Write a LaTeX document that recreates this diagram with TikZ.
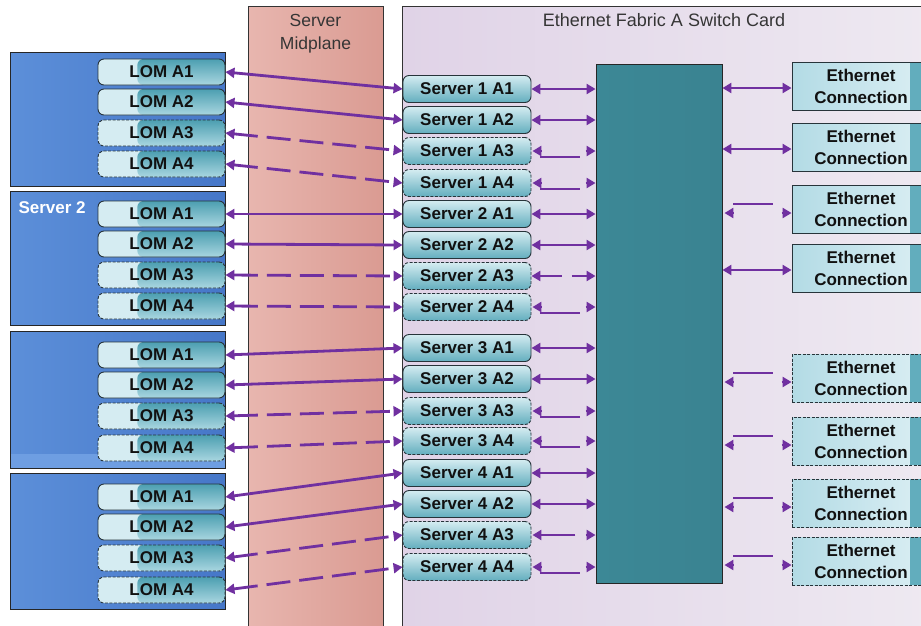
\documentclass[tikz,border=0pt]{standalone}
\usepackage{fontspec}
\setmainfont{Liberation Sans}
\usetikzlibrary{arrows.meta,calc}
\definecolor{linkc}{HTML}{7030A0}
\definecolor{mpL}{HTML}{E8B6AF}
\definecolor{mpR}{HTML}{DA9B92}
\definecolor{swL}{HTML}{E0D3E7}
\definecolor{swR}{HTML}{EEE9F1}
\definecolor{chipL}{HTML}{3C8896}
\definecolor{chipM}{HTML}{4D9EAD}
\definecolor{chipR}{HTML}{3A8391}
\definecolor{srvL}{HTML}{5C8FD9}
\definecolor{srvR}{HTML}{4677C8}
\definecolor{srvS}{HTML}{6E9EE2}
\definecolor{lomP}{HTML}{D5ECF2}
\definecolor{lomT}{HTML}{4C9FB1}
\definecolor{lomB}{HTML}{A9D6E0}
\definecolor{portT}{HTML}{D4ECF1}
\definecolor{portB}{HTML}{63AEBE}
\definecolor{ethL}{HTML}{B3DBE5}
\definecolor{ethR}{HTML}{DCEFF4}
\definecolor{ethS}{HTML}{62ADBD}
\definecolor{edge}{HTML}{27343A}
\definecolor{txt}{HTML}{111111}
\begin{document}
\begin{tikzpicture}[x=1pt,y=-1pt,
  boldtxt/.style={font=\fontsize{17}{22}\selectfont\bfseries, text=txt},
  plaintxt/.style={font=\fontsize{17.5}{22}\selectfont, text=txt!85},
  lnk/.style={draw=linkc, line width=2.8pt, {Triangle[length=9pt,width=10pt]}-{Triangle[length=9pt,width=10pt]}},
  dashlnk/.style={lnk, dash pattern=on 24pt off 9pt},
  tipto/.style={draw=linkc, line width=2.8pt, -{Triangle[length=9pt,width=10pt]}},
  seg/.style={draw=linkc, line width=2.8pt},
  dashedge/.style={dash pattern=on 3pt off 1.5pt},
  srvbox/.style={draw=black!85, line width=0.9pt, left color=srvL, right color=srvR},
  lombox/.style={boldtxt, draw=edge, line width=0.9pt, rounded corners=6pt,
    minimum width=127pt, minimum height=26pt, inner sep=0pt,
    path picture={
      \fill[lomP] (path picture bounding box.south west) rectangle (path picture bounding box.north east);
      \shade[top color=lomT, bottom color=lomB]
        ($(path picture bounding box.south west)!0.31!(path picture bounding box.south east)$)
        rectangle (path picture bounding box.north east);}},
  portbox/.style={boldtxt, draw=edge, line width=0.9pt, rounded corners=6pt,
    minimum width=128pt, minimum height=27pt, inner sep=0pt,
    top color=portT, bottom color=portB},
  ethbox/.style={boldtxt, draw=edge, line width=0.9pt, align=center,
    minimum width=138pt, minimum height=48pt, inner sep=0pt,
    left color=ethL, right color=ethR,
    path picture={
      \fill[ethS] ([xshift=-20pt]path picture bounding box.north east)
        rectangle (path picture bounding box.south east);}},
  chipbox/.style={draw=black!85, line width=0.9pt, minimum width=126pt,
    minimum height=519pt, inner sep=0pt,
    left color=chipL, middle color=chipM, right color=chipR},
]
\useasboundingbox (0,0) rectangle (921,625);
\clip (0,0) rectangle (921,625);
\fill[white] (0,0) rectangle (921,625);

% server midplane
\shade[left color=mpL, right color=mpR] (248,6) rectangle (383,630);
\draw[black!80, line width=0.8pt] (248,630) -- (248,6) -- (383,6) -- (383,630);
\node[plaintxt, anchor=base] (mp1) at (315.5,26) {Server};
\node[plaintxt, anchor=base] (mp2) at (315.5,49) {Midplane};

% switch card
\shade[left color=swL, right color=swR] (402,6) rectangle (930,630);
\draw[black!80, line width=0.8pt] (402,630) -- (402,6) -- (930,6);
\node[plaintxt, font=\fontsize{18}{22}\selectfont, anchor=base] (title) at (664,26) {Ethernet Fabric A Switch Card};

% servers
\path[srvbox] (10,52) rectangle (225,186);
\path[srvbox] (10,191) rectangle (225,325);
\path[srvbox] (10,331) rectangle (225,468);
\fill[srvS] (10.5,454) rectangle (224.5,467.5);
\path[srvbox] (10,473) rectangle (225,609);
\node[font=\fontsize{17}{22}\selectfont\bfseries, text=white, anchor=base west] (s2lbl) at (15,213) {Server 2};

% LOM boxes
\foreach \s/\ya/\yb/\yc/\yd in {1/72/102/133/164, 2/214/244/275/306, 3/355/385/416/448, 4/497/527/558/590} {
  \node[lombox] (l\s1) at (161.5,\ya) {LOM A1};
  \node[lombox] (l\s2) at (161.5,\yb) {LOM A2};
  \node[lombox, dashedge] (l\s3) at (161.5,\yc) {LOM A3};
  \node[lombox, dashedge] (l\s4) at (161.5,\yd) {LOM A4};
}

% switch ports
\foreach \s/\ya/\yb/\yc/\yd in {1/89/120/151/183, 2/214/245/276/307, 3/348/379/411/441, 4/473/504/535/567} {
  \node[portbox] (p\s1) at (467,\ya) {Server \s\ A1};
  \node[portbox] (p\s2) at (467,\yb) {Server \s\ A2};
  \node[portbox, dashedge] (p\s3) at (467,\yc) {Server \s\ A3};
  \node[portbox, dashedge] (p\s4) at (467,\yd) {Server \s\ A4};
}

% switch chip
\node[chipbox] (sw) at (659,323.5) {};

% ethernet connections
\foreach \n/\y in {1/86, 2/147, 3/209, 4/268} {
  \node[ethbox] (e\n) at (861,\y) {Ethernet\\Connection};
}
\foreach \n/\y in {5/378, 6/441, 7/503, 8/561} {
  \node[ethbox, dashedge] (e\n) at (861,\y) {Ethernet\\Connection};
}

% midplane links
\foreach \s in {1,2,3,4} {
  \draw[lnk] (l\s1.east) -- (p\s1.west);
  \draw[lnk] (l\s2.east) -- (p\s2.west);
  \draw[dashlnk] (l\s3.east) -- (p\s3.west);
  \draw[dashlnk] (l\s4.east) -- (p\s4.west);
}

% port to chip links
\foreach \s in {1,2,3,4} {
  \draw[lnk] (p\s1.east) -- (p\s1.east -| sw.west);
  \draw[lnk] (p\s2.east) -- (p\s2.east -| sw.west);
}
\foreach \n in {p13,p14,p24,p33,p34,p44} {
  \draw[tipto] ($(\n.east)+(10,0)$) -- ($(\n.east)+(1,0)$);
  \draw[seg] ($(\n.east)+(9,6)$) -- ($(\n.east)+(49,6)$);
  \draw[tipto] ($(\n.east -| sw.west)+(-10,0)$) -- (\n.east -| sw.west);
}
\draw[lnk, dash pattern=on 22pt off 10pt] (p23.east) -- (p23.east -| sw.west);
\draw[tipto] ($(p43.east)+(44,0)$) -- ($(p43.east)+(1,0)$);
\draw[tipto] ($(p43.east -| sw.west)+(-10,0)$) -- (p43.east -| sw.west);

% chip to ethernet links
\foreach \n in {e1,e2,e4} {
  \draw[lnk] ($(sw.east |- \n.west)+(0,2)$) -- ($(\n.west)+(0,2)$);
}
\foreach \n in {e3,e5,e6,e7,e8} {
  \draw[tipto] ($(sw.east |- \n.west)+(11,4)$) -- ($(sw.east |- \n.west)+(2,4)$);
  \draw[seg] ($(sw.east |- \n.west)+(11,-5)$) -- ($(sw.east |- \n.west)+(51,-5)$);
  \draw[tipto] ($(\n.west)+(-10,4)$) -- ($(\n.west)+(0,4)$);
}
\end{tikzpicture}
\end{document}
